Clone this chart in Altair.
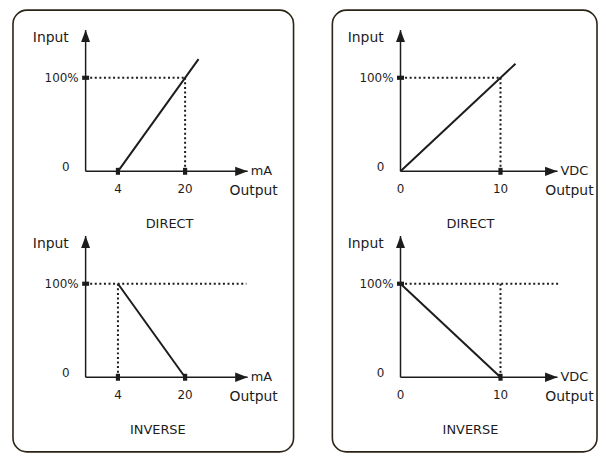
import altair as alt
import pandas as pd

# ---------------- values ----------------
TITLES = ["DIRECT", "INVERSE"]
Y_LABELS = ["0", "100%"]
AXIS_NAMES = ["Input", "Output"]

MA_UNIT = "mA"
MA_TICKS = [4, 20]
MA_DIRECT_X = [4, 23.2]
MA_DIRECT_Y = [0, 120]
MA_INVERSE_X = [4, 20]
MA_INVERSE_Y = [100, 0]
MA_GUIDE_X = [20, 4]          # dotted vertical guide (direct, inverse)

VDC_UNIT = "VDC"
VDC_TICKS = [0, 10]
VDC_DIRECT_X = [0, 11.5]
VDC_DIRECT_Y = [0, 115]
VDC_INVERSE_X = [0, 10]
VDC_INVERSE_Y = [100, 0]
VDC_GUIDE_X = [10, 10]

# ---------------- layout / style ----------------
FONT = "DejaVu Sans"
INK = "#1c1c1c"
BOX = "#2b2316"
HEIGHT = 444
Y_TIP = 151                     # top of the Input arrow, in % units
TOP_RANGE = [162, 68]           # pixel range for 0..100 % (upper diagram)
BOTTOM_RANGE = [369, 275]       # pixel range for 0..100 % (lower diagram)

LEFT = dict(ticks=MA_TICKS, unit=MA_UNIT, dom=[4, 20], rng=[105.5, 173.0],
            origin=-3.7, tip=34.9, hend=34.6, out_dx=6, width=282,
            title_x=[16.3, 13.5])
RIGHT = dict(ticks=VDC_TICKS, unit=VDC_UNIT, dom=[0, 10], rng=[68.5, 169.0],
             origin=0, tip=15.7, hend=15.9, out_dx=12, width=266,
             title_x=[7.0, 7.0])

UP = "M0,0L0.375,1L-0.375,1Z"
RIGHTW = "M0,0L-1,-0.375L-1,0.375Z"
VTICK = "M-0.6,-1L0.6,-1L0.6,1L-0.6,1Z"
HTICK = "M-1,-0.6L1,-0.6L1,0.6L-1,0.6Z"


def diagram(col, lx, ly, vguide, inverse, title, title_x, y_range):
    xs = alt.Scale(domain=col["dom"], range=col["rng"], nice=False, zero=False)
    ys = alt.Scale(domain=[0, 100], range=y_range, nice=False, zero=False)
    X = alt.X("x:Q", scale=xs, axis=None)
    Y = alt.Y("y:Q", scale=ys, axis=None)
    o, tip = col["origin"], col["tip"]

    axes = pd.DataFrame({"x": [o, o], "x2": [tip, o], "y": [0, 0], "y2": [0, Y_TIP]})
    axis_rules = alt.Chart(axes).mark_rule(color=INK, strokeWidth=1.5).encode(
        x=X, x2="x2:Q", y=Y, y2="y2:Q")

    up = alt.Chart(pd.DataFrame({"x": [o], "y": [Y_TIP]})).mark_point(
        shape=UP, size=576, filled=True, color=INK, opacity=1).encode(x=X, y=Y)
    rt = alt.Chart(pd.DataFrame({"x": [tip], "y": [0]})).mark_point(
        shape=RIGHTW, size=625, filled=True, color=INK, opacity=1).encode(x=X, y=Y)

    hend = col["hend"] if inverse else vguide
    guides = pd.DataFrame({"x": [o, vguide], "x2": [hend, vguide],
                           "y": [100, 0], "y2": [100, 100]})
    guide_rules = alt.Chart(guides).mark_rule(
        color=INK, strokeWidth=2, strokeDash=[2, 2.6]).encode(
        x=X, x2="x2:Q", y=Y, y2="y2:Q")

    line = alt.Chart(pd.DataFrame({"x": lx, "y": ly})).mark_line(
        color=INK, strokeWidth=2).encode(x=X, y=Y)

    xt = [t for t in col["ticks"] if t != o]
    xticks = alt.Chart(pd.DataFrame({"x": xt, "y": [0] * len(xt)})).mark_point(
        shape=VTICK, size=49, filled=True, color=INK, opacity=1).encode(x=X, y=Y)
    yticks = alt.Chart(pd.DataFrame({"x": [o], "y": [100]})).mark_point(
        shape=HTICK, size=49, filled=True, color=INK, opacity=1).encode(x=X, y=Y)

    def text(df, size, **kw):
        return alt.Chart(df).mark_text(font=FONT, fontSize=size, color=INK,
                                       baseline="middle", **kw).encode(
            x=X, y=Y, text="t:N")

    tick_lbl = text(pd.DataFrame({"x": col["ticks"], "y": [0] * len(col["ticks"]),
                                  "t": [str(t) for t in col["ticks"]]}), 12, dy=18)
    zero_lbl = text(pd.DataFrame({"x": [o], "y": [0], "t": [Y_LABELS[0]]}), 12,
                    dx=-20, dy=-4)
    hund_lbl = text(pd.DataFrame({"x": [o], "y": [100], "t": [Y_LABELS[1]]}), 12,
                    dx=-7, align="right")
    input_lbl = text(pd.DataFrame({"x": [o], "y": [Y_TIP], "t": [AXIS_NAMES[0]]}), 14,
                     dx=-35, dy=8)
    output_lbl = text(pd.DataFrame({"x": [tip], "y": [0], "t": [AXIS_NAMES[1]]}), 14,
                      dx=col["out_dx"], dy=20)
    unit_lbl = text(pd.DataFrame({"x": [tip], "y": [0], "t": [col["unit"]]}), 13,
                    dx=3, align="left")
    title_lbl = text(pd.DataFrame({"x": [title_x], "y": [0], "t": [title]}), 13,
                     dy=53)

    return alt.layer(guide_rules, axis_rules, line, up, rt, xticks, yticks,
                     tick_lbl, zero_lbl, hund_lbl, input_lbl, output_lbl,
                     unit_lbl, title_lbl)


def column(col, dx, dy, ix, iy, guides):
    top = diagram(col, dx, dy, guides[0], False, TITLES[0], col["title_x"][0], TOP_RANGE)
    bot = diagram(col, ix, iy, guides[1], True, TITLES[1], col["title_x"][1], BOTTOM_RANGE)
    return alt.layer(top, bot).resolve_scale(y="independent").properties(
        width=col["width"], height=HEIGHT)


left = column(LEFT, MA_DIRECT_X, MA_DIRECT_Y, MA_INVERSE_X, MA_INVERSE_Y, MA_GUIDE_X)
right = column(RIGHT, VDC_DIRECT_X, VDC_DIRECT_Y, VDC_INVERSE_X, VDC_INVERSE_Y, VDC_GUIDE_X)

chart = alt.hconcat(left, right, spacing=37).properties(
    padding={"left": 4, "top": 0, "right": 0, "bottom": 0}
).configure_view(stroke=BOX, strokeWidth=1.6, cornerRadius=14)

chart.save("out.html", embed_options={"renderer": "svg", "actions": False})
